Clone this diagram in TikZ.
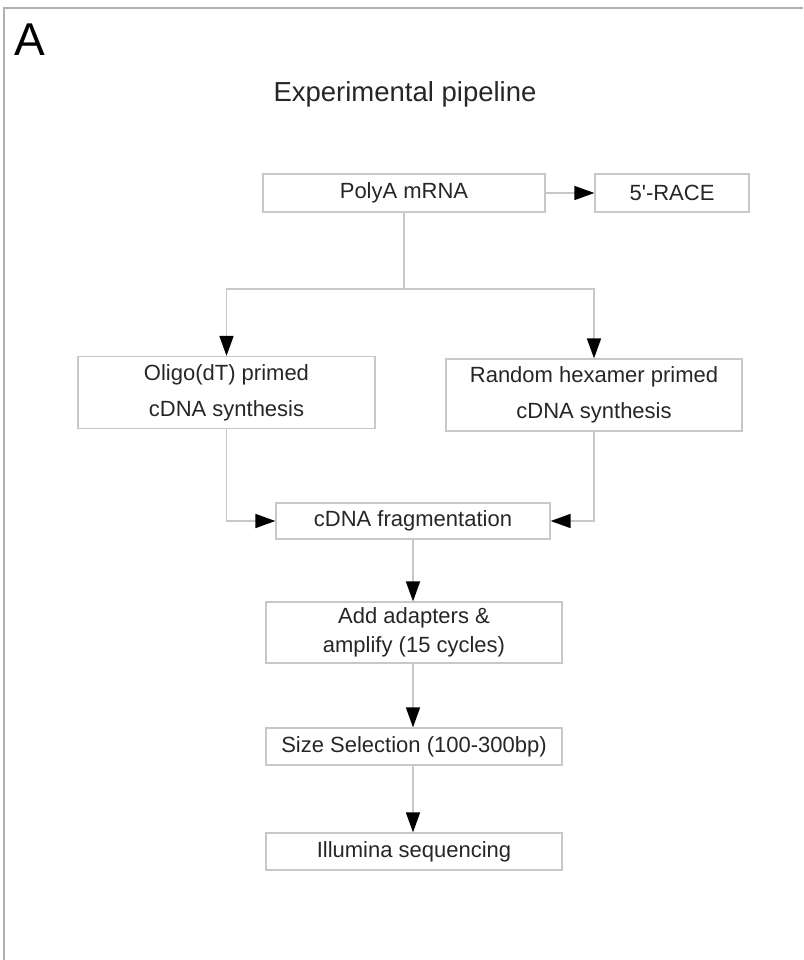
\documentclass[tikz,border=0pt]{standalone}
\usepackage{fontspec}
\setmainfont{Liberation Sans}
\usetikzlibrary{arrows.meta}

\definecolor{PipeGray}{HTML}{C8C8C8}
\definecolor{PipeFrame}{HTML}{B0B0B0}
\definecolor{PipeInk}{HTML}{262626}

\tikzset{PipeBox/.style={draw=PipeGray,line width=1.2pt,inner sep=0pt,align=center,
           text=PipeInk,font=\fontsize{22}{36}\selectfont},
         PipeLink/.style={draw=PipeGray,line width=1.5pt},
         PipeArrow/.style={PipeLink,-{Triangle[length=20pt,width=14pt,color=black]}}}

\begin{document}
\begin{tikzpicture}[x=1pt,y=-1pt,line cap=butt]
  \useasboundingbox (0,0) rectangle (803,960);
  % panel frame, cut off on the right and at the bottom
  \draw[PipeFrame,line width=1.8pt] (4,960) -- (4,8) -- (803,8);
  \node[anchor=base west,inner sep=0pt,text=black,font=\fontsize{46}{46}\selectfont] (panel) at (14,56) {A};
  \node[anchor=base,inner sep=0pt,text=PipeInk,font=\fontsize{27.5}{30}\selectfont] (title) at (405,102) {Experimental pipeline};
  % boxes
  \node[PipeBox,minimum width=282,minimum height=38] (mrna) at (404,193) {PolyA mRNA};
  \node[PipeBox,minimum width=154,minimum height=38] (race) at (672,193) {5\textquotesingle-RACE};
  \node[PipeBox,minimum width=297,minimum height=72] (oligo) at (226.5,392.5) {Oligo(dT) primed\\cDNA synthesis};
  \node[PipeBox,minimum width=296,minimum height=72] (random) at (594,395) {Random hexamer primed\\cDNA synthesis};
  \node[PipeBox,minimum width=274,minimum height=36] (frag) at (413,521) {cDNA fragmentation};
  \node[PipeBox,minimum width=296,minimum height=61,font=\fontsize{22}{29}\selectfont] (adapt) at (414,632.5) {Add adapters \&\\amplify (15 cycles)};
  \node[PipeBox,minimum width=296,minimum height=37] (sizesel) at (414,746.5) {Size Selection (100-300bp)};
  \node[PipeBox,minimum width=296,minimum height=37] (illumina) at (414,851.5) {Illumina sequencing};
  % connectors
  \coordinate (split) at (404,289);
  \draw[PipeArrow] (mrna) -- (race);
  \draw[PipeLink] (mrna.south) -- (split);
  \draw[PipeArrow] (split) -| (oligo.north);
  \draw[PipeArrow] (split) -| (random.north);
  \draw[PipeArrow] (oligo.south) |- (frag.west);
  \draw[PipeArrow] (random.south) |- (frag.east);
  \draw[PipeArrow] (frag.south -| 413,0) -- (adapt.north -| 413,0);
  \draw[PipeArrow] (adapt.south -| 413,0) -- (sizesel.north -| 413,0);
  \draw[PipeArrow] (sizesel.south -| 413,0) -- (illumina.north -| 413,0);
\end{tikzpicture}
\end{document}
